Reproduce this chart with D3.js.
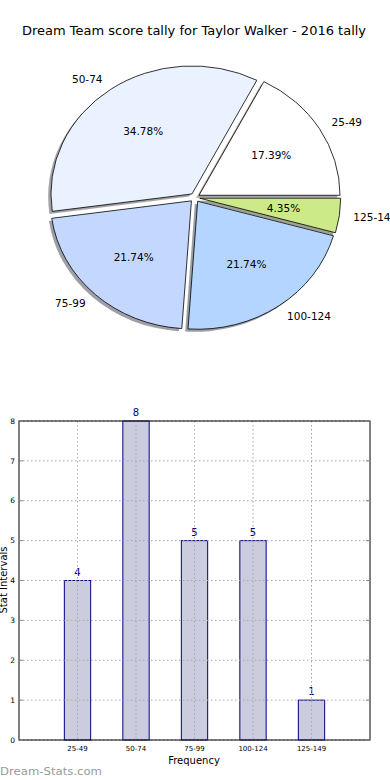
<!DOCTYPE html>
<html><head><meta charset="utf-8">
<script src="https://cdn.jsdelivr.net/npm/d3@7"></script>
<style>body{margin:0;background:#fff}svg{display:block;font-family:"DejaVu Sans",sans-serif}</style>
</head><body><svg id="c" width="390" height="780"></svg>
<script>
const title = "Dream Team score tally for Taylor Walker - 2016 tally";
const categories = ["25-49","50-74","75-99","100-124","125-149"];
const counts = [4,8,5,5,1];
const pieColors = ["#ffffff","#eaf1ff","#c4d8ff","#b3d5ff","#cdea88"];
const yTicks = [0,1,2,3,4,5,6,7,8];
const watermark = "Dream-Stats.com";

const svg = d3.select("#c");
svg.append("text").attr("x",194).attr("y",35).attr("text-anchor","middle")
  .attr("font-size",13).attr("fill","#000").text(title);

// ---- Pie (elliptical, matplotlib style: start east, counterclockwise) ----
const cx = 194.8, cy = 197.6, rx = 141, ry = 128, U = 100;
const explode = 0.035;
const total = d3.sum(counts);
const pie = d3.pie().sort(null).value(d=>d)
  .startAngle(Math.PI/2).endAngle(Math.PI/2 - 2*Math.PI);
const arcs = pie(counts);
const arc = d3.arc().innerRadius(0).outerRadius(U);
const pg = svg.append("g");
function midMpl(a){ const m=(a.startAngle+a.endAngle)/2; return Math.PI/2 - m; }
function centerOf(a){ const t=midMpl(a); return [cx + explode*rx*Math.cos(t), cy - explode*ry*Math.sin(t)]; }
// shadows
arcs.forEach((a,i)=>{
  const [x,y]=centerOf(a);
  const c=d3.color(pieColors[i]); const sc=d3.rgb(c.r*0.3,c.g*0.3,c.b*0.3);
  pg.append("path").attr("d",arc(a))
    .attr("transform",`translate(${x-2.8},${y+2.6}) scale(${rx/U},${ry/U})`)
    .attr("fill",sc).attr("fill-opacity",0.5).attr("stroke","none");
});
arcs.forEach((a,i)=>{
  const [x,y]=centerOf(a);
  pg.append("path").attr("d",arc(a))
    .attr("transform",`translate(${x},${y}) scale(${rx/U},${ry/U})`)
    .attr("fill",pieColors[i]).attr("stroke","#000").attr("stroke-width",0.8)
    .attr("vector-effect","non-scaling-stroke").attr("stroke-linejoin","round");
});
arcs.forEach((a,i)=>{
  const [x,y]=centerOf(a); const t=midMpl(a);
  const lx = x + 1.1*rx*Math.cos(t), ly = y - 1.1*ry*Math.sin(t);
  pg.append("text").attr("x",lx).attr("y",ly).attr("dy","0.35em")
    .attr("text-anchor", Math.cos(t)>0?"start":"end").attr("font-size",10.5).text(categories[i]);
  const px = x + 0.6*rx*Math.cos(t), py = y - 0.6*ry*Math.sin(t);
  pg.append("text").attr("x",px).attr("y",py).attr("dy","0.35em")
    .attr("text-anchor","middle").attr("font-size",10.5)
    .text((counts[i]/total*100).toFixed(2)+"%");
});

// ---- Bar chart ----
const L=19, R=370, T=421, B=740;
const x = d3.scaleLinear().domain([-1,5]).range([L,R]);
const y = d3.scaleLinear().domain([0,8]).range([B,T]);
const bw = 0.45;
const bg = svg.append("g");
// bars
categories.forEach((c,i)=>{
  bg.append("rect").attr("x",x(i-bw/2)).attr("y",y(counts[i]))
    .attr("width",x(bw)-x(0)).attr("height",y(0)-y(counts[i]))
    .attr("fill","#ccccdf").attr("stroke","#000080").attr("stroke-width",1);
  bg.append("text").attr("x",x(i)).attr("y",y(counts[i])-5).attr("text-anchor","middle")
    .attr("font-size",10).attr("fill","#000080").text(counts[i]);
});
// grid (on top, matplotlib style)
yTicks.forEach(v=>{
  bg.append("line").attr("x1",L).attr("x2",R).attr("y1",y(v)).attr("y2",y(v))
    .attr("stroke","#a8a8a8").attr("stroke-width",1).attr("stroke-dasharray","1.5,2.5");
});
categories.forEach((c,i)=>{
  bg.append("line").attr("x1",x(i)).attr("x2",x(i)).attr("y1",T).attr("y2",B)
    .attr("stroke","#a8a8a8").attr("stroke-width",1).attr("stroke-dasharray","1.5,2.5");
});
// frame
bg.append("rect").attr("x",L).attr("y",T).attr("width",R-L).attr("height",B-T)
  .attr("fill","none").attr("stroke","#000").attr("stroke-width",1);
// ticks + labels
yTicks.forEach(v=>{
  bg.append("line").attr("x1",L).attr("x2",L+4).attr("y1",y(v)).attr("y2",y(v)).attr("stroke","#888");
  bg.append("line").attr("x1",R-4).attr("x2",R).attr("y1",y(v)).attr("y2",y(v)).attr("stroke","#888");
  bg.append("text").attr("x",15).attr("y",y(v)).attr("dy","0.35em").attr("text-anchor","end")
    .attr("font-size",7.5).text(v);
});
categories.forEach((c,i)=>{
  bg.append("text").attr("x",x(i)).attr("y",751).attr("text-anchor","middle")
    .attr("font-size",7).text(c);
});
bg.append("text").attr("x",194).attr("y",764).attr("text-anchor","middle").attr("font-size",10).text("Frequency");
bg.append("text").attr("transform","translate(7,580) rotate(-90)").attr("text-anchor","middle")
  .attr("font-size",10).text("Stat Intervals");
svg.append("text").attr("x",0).attr("y",775).attr("font-size",11).attr("fill","#9a9a9a")
  .attr("font-weight","500").attr("textLength",102).attr("lengthAdjust","spacingAndGlyphs").text(watermark);
</script></body></html>
